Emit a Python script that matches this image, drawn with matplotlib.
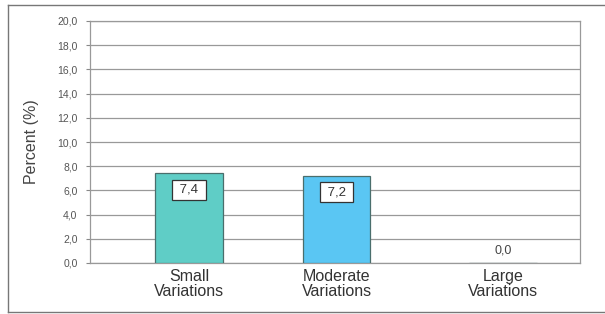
import matplotlib
matplotlib.use("Agg")
import matplotlib.pyplot as plt
from matplotlib.lines import Line2D

plt.rcParams["font.family"] = ["Liberation Sans", "DejaVu Sans"]

categories = ["Small\nVariations", "Moderate\nVariations", "Large\nVariations"]
values = [7.4, 7.2, 0.0]
colors = ["#5fcdc6", "#5ac6f3", "#5ac6f3"]
yticks = [0, 2, 4, 6, 8, 10, 12, 14, 16, 18, 20]
ylabel = "Percent (%)"

fig = plt.figure(figsize=(6.05, 3.14), dpi=100)
fig.patch.set_facecolor("white")
W, H = 605, 314
ax = fig.add_axes([90 / W, 1 - 263 / H, 490 / W, 242 / H])

pos = [0, 0.94, 2.0]
ax.bar(pos, values, width=0.43, color=colors, edgecolor="#4a6e6c", linewidth=0.9, zorder=3)
ax.set_xlim(-0.63, 2.49)
ax.set_ylim(0, 20)
ax.set_yticks(yticks)
ax.set_yticklabels([f"{v:.1f}".replace(".", ",") for v in yticks], fontsize=7.5, color="#555555")
ax.tick_params(axis="y", length=3, color="#888888", pad=6)
ax.set_xticks(pos)
ax.set_xticklabels(categories, fontsize=11.5, color="#333333", linespacing=1.05)
ax.tick_params(axis="x", length=0, pad=4)
ax.grid(axis="y", color="#999999", linewidth=0.9, zorder=0)
for s in ["left", "right", "bottom", "top"]:
    ax.spines[s].set_color("#999999")
    ax.spines[s].set_linewidth(0.9)
ax.set_ylabel(ylabel, fontsize=11.5, color="#444444", labelpad=13)

for p, v in zip(pos, values):
    label = f"{v:.1f}".replace(".", ",")
    if v > 0:
        ax.text(p, v - 1.35, " " + label + " ", ha="center", va="center", fontsize=9.5, color="#333333", zorder=4,
                bbox=dict(boxstyle="square,pad=0.3", facecolor="white", edgecolor="#333333", linewidth=0.9))
    else:
        ax.text(p, v + 0.5, label, ha="center", va="bottom", fontsize=9, color="#444444", zorder=4)

# outer frame (left, top, bottom)
fig.add_artist(Line2D([8 / W, 8 / W], [1 - 5 / H, 1 - 312 / H], transform=fig.transFigure, color="#777777", linewidth=1))
fig.add_artist(Line2D([8 / W, 1], [1 - 5 / H, 1 - 5 / H], transform=fig.transFigure, color="#777777", linewidth=1))
fig.add_artist(Line2D([8 / W, 1], [1 - 312 / H, 1 - 312 / H], transform=fig.transFigure, color="#777777", linewidth=1))

fig.savefig("out.png", dpi=100, facecolor="white")
